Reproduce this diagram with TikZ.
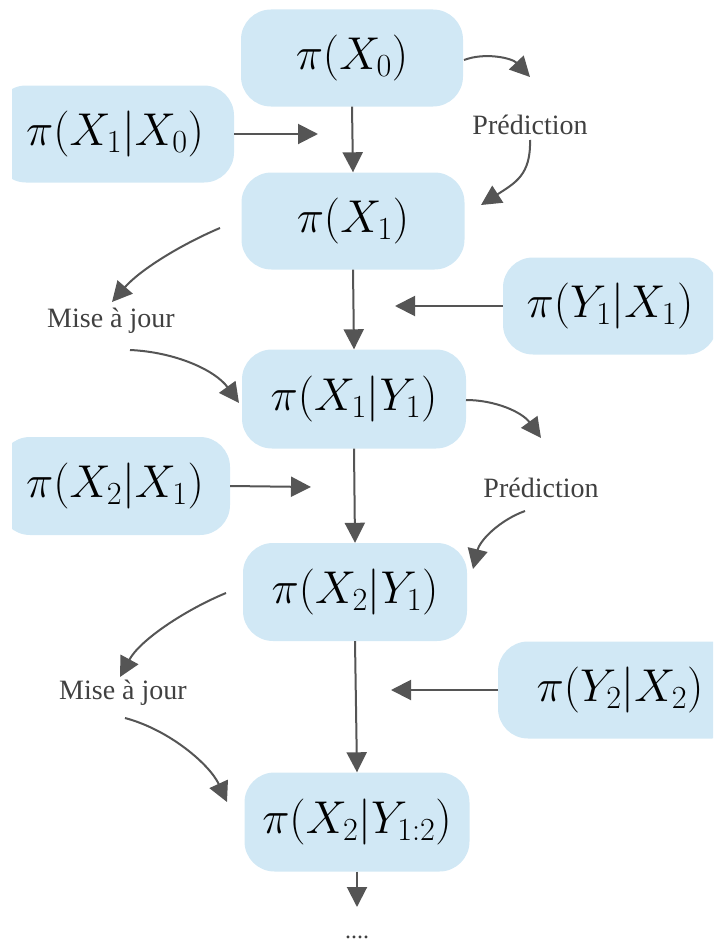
\RequirePackage{fix-cm}
\documentclass[tikz,border=0pt]{standalone}
\usepackage{fontspec}
\newfontfamily\labfont{Liberation Serif}
\usetikzlibrary{arrows.meta}
\definecolor{boxblue}{HTML}{D1E8F5}
\definecolor{arrgray}{HTML}{555555}
\definecolor{labgray}{HTML}{404040}
\begin{document}
\begin{tikzpicture}[x=1pt,y=-1pt,
  box/.style={fill=boxblue, rounded corners=30pt, minimum height=97pt, inner sep=0pt,
              font=\fontsize{46}{54}\selectfont},
  arr/.style={draw=arrgray, line width=2pt, -{Triangle[length=20pt,width=20pt]}},
  lab/.style={font=\labfont\fontsize{28}{32}\selectfont, text=labgray, inner sep=0pt}]
\useasboundingbox (0,0) rectangle (713,942);
\begin{scope}
  \clip (12,0) rectangle (713,942);
  \node[box, minimum width=222pt] (x0)   at (352,58)  {$\pi(X_0)$};
  \node[box, minimum width=238pt] (x1x0) at (115,134) {$\pi(X_1|X_0)$};
  \node[box, minimum width=223pt] (x1)   at (353,221) {$\pi(X_1)$};
  \node[box, minimum width=214pt] (y1x1) at (610,306) {$\pi(Y_1|X_1)$};
  \node[box, minimum width=224pt, minimum height=99pt] (x1y1) at (354,399) {$\pi(X_1|Y_1)$};
  \node[box, minimum width=230pt, minimum height=98pt] (x2x1) at (115,486) {$\pi(X_2|X_1)$};
  \node[box, minimum width=224pt, minimum height=98pt] (x2y1) at (355,592) {$\pi(X_2|Y_1)$};
  \node[box, minimum width=244pt] (y2x2) at (620,690) {$\pi(Y_2|X_2)$};
  \node[box, minimum width=225pt, minimum height=99pt] (x2y12) at (357,822) {$\pi(X_2|Y_{1:2})$};
\end{scope}
\node[font=\labfont\fontsize{24}{28}\selectfont, text=labgray, inner sep=0pt] (dots) at (357,937) {....};
\node[lab] (pred1) at (530,125) {Prédiction};
\node[lab] (maj1)  at (111,321) {Mise à jour};
\node[lab] (pred2) at (541,488) {Prédiction};
\node[lab] (maj2)  at (123,693) {Mise à jour};
% free ends
\coordinate (h1) at (318,134);
\coordinate (h2) at (395,306);
\coordinate (h3) at (311,487);
\coordinate (h4) at (391,690);
\coordinate (vend) at (357,907);
\coordinate (c1s) at (464,60);  \coordinate (c1e) at (530,77);
\coordinate (c2s) at (530,140); \coordinate (c2e) at (481,205);
\coordinate (c3s) at (220,228); \coordinate (c3e) at (112,302);
\coordinate (c4s) at (130,350); \coordinate (c4e) at (239,403);
\coordinate (c5s) at (466,400); \coordinate (c5e) at (541,438);
\coordinate (c6s) at (525,511); \coordinate (c6e) at (473,569);
\coordinate (c7s) at (226,593); \coordinate (c7e) at (120,677);
\coordinate (c8s) at (125,718); \coordinate (c8e) at (227,802);
% vertical arrows
\draw[arr] (x0.south) -- (x1.north);
\draw[arr] (x1.south) -- (x1y1.north);
\draw[arr] (x1y1.south) -- (x2y1.north);
\draw[arr] (x2y1.south) -- (x2y12.north);
\draw[arr] (x2y12.south) -- (vend);
% horizontal arrows
\draw[arr] (x1x0.east) -- (h1);
\draw[arr] (y1x1.west) -- (h2);
\draw[arr] (x2x1.east) -- (h3);
\draw[arr] (y2x2.west) -- (h4);
% curved arrows
\draw[arr] (c1s) .. controls (485,52) and (512,58) .. (c1e);
\draw[arr] (c2s) .. controls (531,175) and (515,183) .. (c2e);
\draw[arr] (c3s) .. controls (180,245) and (140,270) .. (c3e);
\draw[arr] (c4s) .. controls (175,352) and (215,370) .. (c4e);
\draw[arr] (c5s) .. controls (495,400) and (522,412) .. (c5e);
\draw[arr] (c6s) .. controls (500,520) and (480,540) .. (c6e);
\draw[arr] (c7s) .. controls (185,610) and (140,640) .. (c7e);
\draw[arr] (c8s) .. controls (170,730) and (210,765) .. (c8e);
\end{tikzpicture}
\end{document}
